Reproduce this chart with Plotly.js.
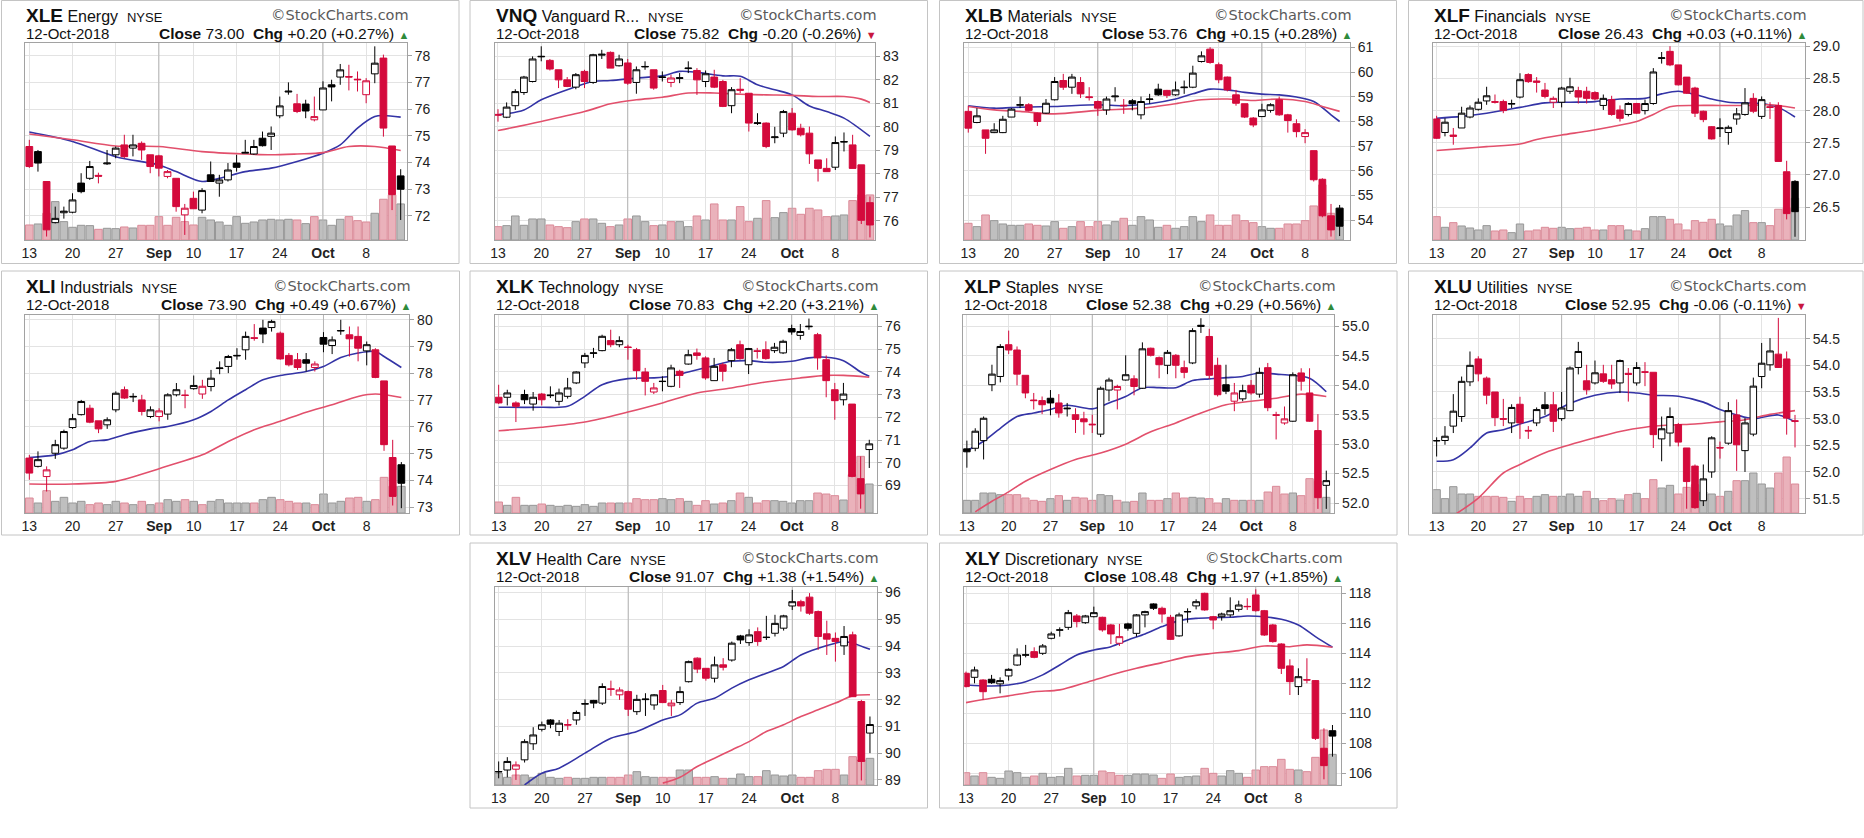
<!DOCTYPE html>
<html><head><meta charset="utf-8">
<script src="https://cdn.plot.ly/plotly-3.0.1.min.js"></script>
<style>html,body{margin:0;padding:0;background:#fff;}#chart{width:1864px;height:838px;}</style>
</head><body><div id="chart"></div>
<script>
// ---------------- DATA ----------------
const dates = ['2018-08-13','2018-08-14','2018-08-15','2018-08-16','2018-08-17','2018-08-20','2018-08-21','2018-08-22','2018-08-23','2018-08-24','2018-08-27','2018-08-28','2018-08-29','2018-08-30','2018-08-31','2018-09-04','2018-09-05','2018-09-06','2018-09-07','2018-09-10','2018-09-11','2018-09-12','2018-09-13','2018-09-14','2018-09-17','2018-09-18','2018-09-19','2018-09-20','2018-09-21','2018-09-24','2018-09-25','2018-09-26','2018-09-27','2018-09-28','2018-10-01','2018-10-02','2018-10-03','2018-10-04','2018-10-05','2018-10-08','2018-10-09','2018-10-10','2018-10-11','2018-10-12'];
const tickDates = ['2018-08-13','2018-08-20','2018-08-27','2018-09-04','2018-09-10','2018-09-17','2018-09-24','2018-10-01','2018-10-08'];
const tickLabels = ['13','20','27','<b>Sep</b>','10','17','24','<b>Oct</b>','8'];
const monthStarts = ['2018-09-04','2018-10-01'];
const asOf = '12-Oct-2018';

// [open, high, low, close]
const XLE_ohlc = [[74.6,74.85,73.8,73.85],[74.41,74.47,73.66,73.98],[73.29,73.3,71.23,71.48],[71.75,72.35,71.72,71.91],[72.12,72.35,71.9,72.18],[72.14,72.85,72.1,72.6],[73.23,73.6,72.85,72.91],[73.41,74.06,73.35,73.85],[73.52,73.62,73.22,73.49],[73.95,74.47,73.91,73.98],[74.29,74.6,74.16,74.54],[74.66,75.04,74.16,74.22],[74.54,75.04,74.23,74.66],[74.72,74.79,74.1,74.47],[74.29,74.29,73.6,73.85],[74.25,74.29,73.48,73.79],[73.48,73.72,73.41,73.66],[73.41,73.41,72.16,72.35],[72.04,72.45,71.29,72.29],[72.66,72.91,72.27,72.27],[72.22,73.04,72.1,72.95],[73.54,74.04,73.29,73.29],[73.23,73.54,72.72,73.35],[73.35,73.98,73.29,73.72],[73.98,74.29,73.66,73.82],[74.35,74.85,74.35,74.38],[74.32,74.85,74.29,74.6],[74.91,75.16,74.6,74.63],[74.98,75.35,74.47,75.1],[75.75,76.47,75.66,76.12],[76.64,77.0,76.54,76.67],[76.2,76.57,75.85,75.91],[76.19,76.35,75.66,75.93],[75.6,76.47,75.54,75.72],[75.97,77.04,75.97,76.79],[76.91,77.1,76.29,76.83],[77.2,77.69,76.91,77.47],[77.22,77.66,76.7,77.2],[77.12,77.41,76.66,77.1],[76.54,77.16,76.22,77.06],[77.32,78.35,76.97,77.72],[77.91,78.04,74.97,75.29],[74.62,74.62,72.22,72.8],[73.5,73.75,71.85,73.0]];
const XLE_vol = [45,48,80,115,55,38,44,43,32,35,34,39,36,44,44,70,44,68,55,45,68,60,54,44,70,50,54,60,62,60,62,60,49,70,60,44,62,70,58,54,80,122,135,108];
const XLE_ma20 = [[0,75.14],[5,74.79],[10,74.22],[15,73.91],[17,73.66],[20,73.29],[22,73.41],[25,73.66],[28,73.79],[31,74.04],[34,74.35],[36,74.66],[38,75.29],[40,75.72],[41,75.76],[43,75.7]];
const XLE_ma50 = [[0,75.07],[5,74.85],[10,74.62],[15,74.6],[20,74.41],[25,74.32],[28,74.29],[31,74.32],[34,74.37],[37,74.6],[40,74.6],[43,74.45]];
const XLE_ticks = [72,73,74,75,76,77,78];

const VNQ_ohlc = [[80.53,80.75,80.22,80.5],[80.41,81.04,80.37,80.84],[80.9,81.6,80.72,81.5],[81.46,82.17,81.36,82.12],[81.93,83.0,81.89,82.89],[82.98,83.43,82.79,83.0],[82.83,82.89,82.4,82.46],[82.43,82.43,81.65,82.0],[82.0,82.12,81.69,81.72],[81.69,82.29,81.6,82.22],[82.36,82.43,81.65,81.93],[81.89,83.11,81.83,83.07],[83.05,83.28,82.89,83.09],[83.17,83.21,82.5,82.5],[82.6,83.07,82.57,82.89],[82.72,82.89,81.79,81.86],[81.89,82.57,81.41,82.43],[82.55,82.79,82.43,82.57],[82.43,82.43,81.58,81.65],[82.1,82.36,81.93,82.12],[81.89,82.22,81.69,82.08],[82.06,82.29,81.86,82.09],[82.48,82.79,82.29,82.5],[82.4,82.5,81.36,82.0],[81.93,82.4,81.69,82.26],[82.12,82.43,81.65,81.69],[81.93,82.0,80.84,80.87],[80.9,81.69,80.58,81.58],[81.6,82.07,81.43,81.56],[81.43,81.43,79.8,80.16],[80.14,80.58,80.08,80.17],[80.16,80.19,79.09,79.16],[79.54,80.0,79.3,79.57],[79.73,80.72,79.56,80.65],[80.58,80.8,79.84,79.87],[79.94,80.13,79.59,79.66],[79.73,80.01,78.42,78.85],[78.59,78.59,77.67,78.23],[78.23,78.66,78.09,78.09],[78.28,79.59,78.16,79.33],[79.35,79.76,78.95,79.37],[79.23,79.66,78.23,78.23],[78.38,78.38,75.86,76.02],[76.77,77.03,75.29,75.82]];
const VNQ_vol = [40,43,72,44,63,63,45,40,37,55,63,63,50,40,45,63,72,55,43,45,55,55,40,72,60,108,60,60,100,55,65,118,67,82,95,77,95,90,70,72,75,118,135,135];
const VNQ_ma20 = [[0,80.51],[3,80.72],[5,81.15],[8,81.58],[11,81.93],[13,81.97],[16,82.08],[19,82.17],[21,82.36],[23,82.32],[26,82.17],[28,82.15],[30,81.79],[32,81.58],[34,81.36],[36,80.89],[38,80.65],[40,80.37],[43,79.59]];
const VNQ_ma50 = [[0,79.84],[5,80.23],[10,80.65],[13,80.98],[16,81.15],[19,81.26],[22,81.44],[25,81.44],[28,81.39],[31,81.36],[34,81.34],[37,81.29],[40,81.29],[42,81.18],[43,81.04]];
const VNQ_ticks = [76,77,78,79,80,81,82,83];

const XLB_ohlc = [[58.41,58.64,57.55,57.73],[57.96,58.54,57.93,58.23],[57.66,57.66,56.69,57.32],[57.55,57.93,57.53,57.66],[57.55,58.23,57.53,58.09],[58.18,58.54,58.18,58.5],[58.66,59.01,58.54,58.68],[58.68,58.74,58.41,58.45],[58.34,58.36,57.82,58.0],[58.34,58.91,58.31,58.74],[58.88,59.8,58.85,59.62],[59.66,59.93,59.28,59.39],[59.39,59.93,59.12,59.8],[59.58,59.8,58.95,59.12],[59.0,59.39,58.85,58.97],[58.81,58.85,58.23,58.54],[58.47,59.01,58.27,58.91],[59.0,59.39,58.81,59.03],[58.66,58.91,58.31,58.64],[58.84,58.91,58.45,58.72],[58.27,59.01,58.09,58.81],[58.89,59.12,58.72,58.91],[59.31,59.53,59.04,59.08],[59.26,59.28,58.95,59.06],[59.08,59.62,59.04,59.28],[59.37,59.66,59.12,59.39],[59.39,60.26,59.35,59.96],[60.43,60.84,60.39,60.66],[60.93,61.01,60.34,60.39],[60.3,60.39,59.55,59.69],[59.8,59.82,59.22,59.28],[59.08,59.28,58.64,58.74],[58.72,58.72,58.14,58.18],[58.14,58.18,57.77,57.86],[58.2,58.72,58.18,58.47],[58.45,58.74,58.36,58.68],[58.88,59.01,58.23,58.27],[58.27,58.31,57.55,58.04],[57.91,58.09,57.36,57.59],[57.39,57.69,57.12,57.55],[56.82,56.82,55.57,55.64],[55.66,55.7,54.12,54.18],[54.18,54.66,53.34,53.61],[54.49,54.62,53.36,53.76]];
const XLB_vol = [50,40,75,58,48,44,44,48,44,42,55,35,40,55,40,55,45,55,65,44,70,60,38,44,35,40,70,55,75,44,44,75,58,52,40,35,35,48,48,58,102,165,80,95];
const XLB_ma20 = [[0,58.64],[3,58.54],[6,58.58],[10,58.61],[15,58.68],[18,58.64],[21,58.72],[24,58.91],[26,59.12],[28,59.31],[30,59.28],[32,59.18],[34,59.11],[36,59.08],[38,58.99],[40,58.81],[42,58.27],[43,58.0]];
const XLB_ma50 = [[0,58.61],[3,58.47],[6,58.41],[10,58.31],[15,58.45],[20,58.54],[24,58.72],[27,58.88],[30,58.91],[33,58.85],[36,58.91],[39,58.81],[41,58.61],[43,58.41]];
const XLB_ticks = [54,55,56,57,58,59,60,61];

const XLF_ohlc = [[27.87,27.92,27.56,27.57],[27.66,27.88,27.6,27.82],[27.62,27.73,27.47,27.6],[27.73,28.06,27.73,27.96],[27.9,28.08,27.88,28.04],[28.02,28.19,28.0,28.13],[28.15,28.37,28.09,28.23],[28.14,28.25,28.11,28.13],[28.14,28.17,27.96,28.0],[28.1,28.17,28.04,28.11],[28.21,28.58,28.19,28.48],[28.56,28.58,28.43,28.45],[28.46,28.52,28.28,28.44],[28.32,28.43,28.19,28.22],[28.13,28.22,28.04,28.19],[28.13,28.37,28.05,28.35],[28.3,28.51,28.26,28.37],[28.31,28.37,28.11,28.21],[28.3,28.37,28.11,28.19],[28.28,28.3,28.16,28.18],[28.08,28.25,28.01,28.19],[28.17,28.23,27.92,27.94],[28.01,28.08,27.83,27.88],[27.94,28.13,27.91,28.11],[28.11,28.12,27.95,27.96],[28.0,28.17,27.94,28.11],[28.11,28.66,28.09,28.6],[28.81,28.91,28.73,28.82],[28.92,29.0,28.69,28.71],[28.71,28.71,28.39,28.4],[28.52,28.52,28.26,28.27],[28.35,28.37,27.9,27.96],[27.99,28.0,27.82,27.86],[27.75,27.76,27.55,27.56],[27.72,27.88,27.59,27.73],[27.66,27.77,27.47,27.74],[27.87,28.04,27.78,27.95],[27.94,28.35,27.92,28.12],[28.19,28.27,27.96,27.99],[27.91,28.22,27.87,28.17],[28.06,28.13,27.87,28.05],[28.08,28.13,27.21,27.21],[27.05,27.22,26.31,26.4],[26.9,26.92,26.04,26.43]];
const XLF_vol = [70,38,52,42,36,30,43,27,30,22,48,27,30,38,35,38,34,35,38,30,30,43,43,30,27,34,70,70,62,48,30,58,53,62,48,42,75,88,52,52,43,92,95,125];
const XLF_ma20 = [[0,27.88],[3,27.91],[6,27.96],[10,28.05],[13,28.12],[16,28.13],[19,28.14],[22,28.18],[25,28.19],[27,28.26],[29,28.3],[31,28.25],[33,28.18],[35,28.13],[37,28.12],[39,28.11],[41,28.05],[43,27.9]];
const XLF_ma50 = [[0,27.38],[3,27.41],[6,27.44],[10,27.48],[12,27.55],[15,27.62],[18,27.68],[21,27.75],[24,27.83],[26,27.94],[28,28.06],[31,28.08],[34,28.08],[37,28.08],[40,28.09],[43,28.04]];
const XLF_ticks = [26.5,27.0,27.5,28.0,28.5,29.0];

const XLI_ohlc = [[74.84,74.96,74.03,74.28],[74.53,75.09,74.49,74.78],[74.15,74.53,73.59,74.4],[75.02,75.52,74.81,75.34],[75.21,75.9,75.15,75.83],[75.98,76.49,75.93,76.31],[76.46,77.01,76.43,76.95],[76.7,76.83,76.14,76.18],[76.23,76.23,75.77,75.93],[76.08,76.36,75.93,76.27],[76.64,77.33,76.55,77.26],[77.39,77.51,77.05,77.08],[77.12,77.26,76.93,77.14],[77.01,77.2,76.43,76.58],[76.39,76.77,76.33,76.64],[76.39,76.7,76.21,76.6],[76.48,77.26,76.27,77.2],[77.2,77.64,77.14,77.39],[77.19,77.39,76.7,77.18],[77.43,77.92,77.39,77.55],[77.23,77.76,77.05,77.52],[77.51,78.13,77.33,77.82],[78.18,78.45,77.97,78.2],[78.26,78.69,78.01,78.63],[78.65,78.94,78.51,78.67],[78.88,79.56,78.51,79.38],[79.33,79.84,79.22,79.31],[79.69,80.0,79.13,79.47],[79.71,80.0,79.56,79.94],[79.5,79.56,78.51,78.54],[78.67,78.76,78.26,78.32],[78.51,78.76,78.13,78.22],[78.51,78.76,78.07,78.38],[78.22,78.45,78.07,78.35],[79.34,79.54,78.79,79.09],[79.04,79.38,78.72,79.25],[79.58,80.0,79.44,79.6],[79.44,79.75,78.63,79.29],[79.38,79.75,78.45,78.94],[78.84,79.19,78.3,79.07],[78.88,78.94,77.82,77.85],[77.72,77.72,75.11,75.34],[74.86,75.52,73.07,73.41],[74.59,74.69,72.97,73.9]];
const XLI_vol = [45,30,67,35,47,30,35,25,30,25,35,30,25,35,25,30,40,35,40,35,25,35,40,30,30,30,30,40,47,40,35,30,30,25,57,30,35,45,47,35,40,107,80,80];
const XLI_ma20 = [[0,74.86],[3,74.96],[5,75.15],[7,75.46],[9,75.52],[11,75.71],[14,75.93],[16,76.02],[19,76.27],[21,76.58],[23,77.01],[25,77.39],[27,77.76],[29,77.92],[32,78.07],[34,78.26],[36,78.59],[38,78.76],[40,78.82],[41,78.63],[43,78.22]];
const XLI_ma50 = [[0,73.87],[5,73.87],[10,73.97],[14,74.34],[17,74.65],[20,74.96],[23,75.46],[26,75.9],[29,76.21],[32,76.55],[35,76.83],[38,77.14],[40,77.23],[43,77.1]];
const XLI_ticks = [73,74,75,76,77,78,79,80];

const XLK_ohlc = [[72.88,73.43,72.58,72.63],[72.88,73.21,72.52,73.07],[72.63,72.7,71.79,72.48],[73.0,73.21,72.58,72.77],[72.58,73.11,72.29,72.88],[73.02,73.07,72.52,72.77],[72.95,73.36,72.85,72.97],[72.7,73.26,72.52,73.07],[72.92,73.73,72.82,73.29],[73.51,74.02,73.46,73.99],[74.39,74.83,74.17,74.72],[74.81,75.05,74.61,74.83],[74.93,75.63,74.9,75.56],[75.37,75.85,75.08,75.19],[75.19,75.56,75.08,75.37],[75.09,75.19,74.53,75.07],[74.97,75.05,73.65,74.05],[73.99,74.17,72.96,73.58],[73.11,73.51,73.02,73.29],[73.57,73.8,73.14,73.58],[73.36,74.31,73.32,74.17],[74.02,74.09,73.29,73.84],[74.34,74.97,74.31,74.75],[74.83,75.02,74.53,74.72],[74.61,74.68,73.65,73.73],[73.61,74.61,73.61,74.24],[74.31,74.39,73.58,74.02],[74.49,75.05,74.2,74.97],[75.19,75.37,74.53,74.58],[74.31,75.05,73.9,75.02],[74.92,75.05,74.58,74.9],[74.97,75.34,74.53,74.58],[74.93,75.27,74.83,75.08],[74.83,75.41,74.78,75.34],[75.9,76.07,75.63,75.75],[75.6,76.1,75.41,75.77],[75.98,76.34,75.85,76.0],[75.63,75.71,74.09,74.61],[74.53,74.72,72.88,73.61],[73.21,73.51,71.89,72.73],[72.77,73.51,72.52,73.02],[72.58,72.58,69.36,69.4],[69.3,70.28,67.98,68.63],[70.58,71.01,69.77,70.83]];
const XLK_vol = [33,23,47,23,23,27,23,20,23,20,25,20,30,30,30,30,43,40,40,43,40,43,35,23,37,27,30,37,60,47,30,37,37,35,30,37,37,60,57,52,39,115,170,87];
const XLK_ma20 = [[0,72.44],[5,72.44],[8,72.48],[10,72.92],[12,73.43],[15,73.7],[18,73.73],[20,73.8],[22,73.99],[25,74.28],[27,74.46],[29,74.49],[31,74.42],[34,74.46],[36,74.61],[38,74.64],[40,74.49],[42,73.99],[43,73.8]];
const XLK_ma50 = [[0,71.41],[5,71.56],[10,71.79],[15,72.23],[19,72.63],[23,73.07],[27,73.29],[31,73.55],[35,73.73],[38,73.84],[40,73.84],[43,73.76]];
const XLK_ticks = [69,70,71,72,73,74,75,76];

const XLP_ohlc = [[52.92,53.06,52.6,52.87],[52.93,53.27,52.88,53.22],[53.06,53.47,52.74,53.44],[54.01,54.35,53.9,54.19],[54.15,54.7,54.05,54.66],[54.69,54.93,54.53,54.6],[54.6,54.66,54.0,54.19],[54.17,54.17,53.78,53.87],[53.75,53.87,53.59,53.74],[53.74,53.81,53.51,53.67],[53.78,53.92,53.49,53.7],[53.7,53.85,53.45,53.53],[53.6,53.7,53.47,53.61],[53.5,53.61,53.19,53.42],[53.43,53.55,53.16,53.38],[53.34,53.5,53.19,53.33],[53.17,53.98,53.12,53.95],[53.92,54.13,53.73,54.09],[53.92,54.01,53.59,53.98],[54.09,54.51,54.08,54.18],[54.11,54.17,53.83,53.98],[53.95,54.73,53.94,54.62],[54.63,54.64,54.49,54.51],[54.47,54.49,54.12,54.35],[54.34,54.6,54.19,54.56],[54.51,54.53,54.12,54.34],[54.3,54.42,54.12,54.22],[54.38,54.97,54.36,54.93],[55.0,55.14,54.89,55.02],[54.83,54.96,54.11,54.17],[54.34,54.47,53.81,53.84],[54.01,54.35,53.85,53.9],[53.73,54.04,53.56,53.87],[53.77,54.01,53.73,53.91],[54.0,54.09,53.84,53.87],[53.85,54.3,53.79,54.22],[54.3,54.38,53.56,53.62],[53.5,53.55,53.08,53.49],[53.36,53.64,53.33,53.43],[53.39,54.22,53.38,54.18],[54.21,54.29,53.91,54.07],[53.87,54.29,53.38,53.39],[53.23,53.51,51.9,52.09],[52.3,52.55,51.9,52.38]];
const XLP_vol = [38,38,60,60,55,55,55,45,38,35,43,52,38,47,45,38,55,52,38,33,35,60,38,38,43,60,45,47,45,43,30,43,38,38,38,38,63,80,57,60,52,103,95,47];
const XLP_ma20 = [[0,52.89],[2,53.05],[4,53.27],[6,53.47],[8,53.53],[10,53.59],[12,53.66],[15,53.6],[17,53.7],[19,53.81],[21,53.96],[23,53.96],[25,53.96],[27,54.08],[29,54.11],[31,54.13],[33,54.15],[35,54.21],[37,54.19],[39,54.17],[41,54.12],[43,53.89]];
const XLP_ma50 = [[1,51.85],[3,52.03],[5,52.19],[7,52.37],[10,52.57],[13,52.74],[16,52.85],[19,53.0],[22,53.21],[25,53.36],[28,53.53],[31,53.67],[34,53.73],[37,53.78],[40,53.85],[43,53.81]];
const XLP_ticks = [52.0,52.5,53.0,53.5,54.0,54.5,55.0];

const XLU_ohlc = [[52.58,52.65,52.29,52.59],[52.59,52.86,52.51,52.67],[52.86,53.46,52.73,53.14],[53.04,53.79,52.94,53.7],[53.69,54.26,53.61,54.0],[54.12,54.17,53.7,53.84],[53.76,53.79,53.27,53.44],[53.5,53.5,52.86,53.02],[53.0,53.37,52.86,52.99],[52.92,53.27,52.73,53.21],[53.27,53.41,52.62,52.92],[52.78,52.86,52.62,52.77],[52.92,53.21,52.86,53.17],[53.26,53.5,53.07,53.19],[53.26,53.5,52.75,52.95],[53.0,53.5,52.96,53.2],[53.15,53.98,53.14,53.95],[53.96,54.44,53.83,54.26],[53.71,54.01,53.45,53.54],[53.67,54.09,53.64,53.86],[53.84,54.01,53.67,53.7],[53.73,54.01,53.56,53.65],[53.67,54.11,53.48,54.09],[53.85,53.95,53.32,53.83],[53.67,54.06,53.62,53.96],[53.88,54.06,53.61,53.87],[53.87,53.87,52.45,52.7],[52.62,53.04,52.2,52.81],[52.73,53.21,52.48,53.04],[52.89,52.92,52.48,52.56],[52.45,52.45,51.31,51.82],[52.11,52.14,51.31,51.33],[51.46,52.14,51.36,51.87],[52.0,52.67,51.89,52.64],[52.46,52.57,52.25,52.45],[52.54,53.31,52.51,53.15],[53.07,53.36,52.02,52.51],[52.4,53.01,52.0,52.92],[52.71,53.77,52.67,53.61],[53.79,54.42,53.57,54.04],[54.01,54.51,53.9,54.27],[54.21,54.89,53.95,53.96],[54.12,54.26,52.7,53.01],[52.96,53.07,52.46,52.95]];
const XLU_vol = [70,43,79,57,57,50,50,50,47,35,50,43,50,55,50,50,57,50,65,43,37,43,39,55,59,43,100,75,83,57,77,85,63,57,50,65,97,97,120,87,75,120,168,87];
const XLU_ma20 = [[0,52.2],[2,52.23],[4,52.45],[6,52.73],[8,52.79],[10,52.9],[13,53.04],[16,53.29],[19,53.44],[22,53.5],[24,53.48],[26,53.44],[29,53.42],[32,53.31],[34,53.17],[36,53.07],[38,53.0],[41,53.07],[43,52.94]];
const XLU_ma50 = [[2,51.18],[5,51.51],[8,51.98],[10,52.14],[13,52.36],[16,52.51],[19,52.64],[22,52.76],[25,52.84],[28,52.88],[31,52.9],[34,52.94],[37,52.98],[40,53.08],[43,53.15]];
const XLU_ticks = [51.5,52.0,52.5,53.0,53.5,54.0,54.5];

const XLV_ohlc = [[89.3,89.69,89.06,89.31],[89.37,89.85,89.1,89.69],[89.4,89.69,89.0,89.56],[89.75,90.52,89.65,90.43],[90.35,90.97,90.12,90.68],[90.89,91.18,90.81,91.06],[91.24,91.27,90.93,91.08],[90.81,91.24,90.64,91.12],[91.07,91.27,90.87,91.05],[91.24,91.59,91.06,91.52],[91.83,92.01,91.39,91.85],[91.97,91.99,91.68,91.87],[91.87,92.61,91.8,92.49],[92.4,92.71,92.14,92.39],[92.18,92.46,91.99,92.36],[92.3,92.34,91.39,91.64],[91.55,92.18,91.43,92.01],[92.0,92.24,91.39,92.02],[91.8,92.21,91.62,92.18],[92.34,92.55,91.87,91.89],[91.77,91.99,91.39,91.87],[91.89,92.49,91.8,92.3],[92.67,93.46,92.64,93.42],[93.55,93.58,92.99,93.14],[93.17,93.17,92.71,92.8],[92.8,93.61,92.64,93.3],[93.3,93.55,93.09,93.21],[93.48,94.17,93.42,94.11],[94.38,94.42,94.08,94.23],[94.13,94.63,94.01,94.42],[94.54,94.7,94.01,94.17],[94.32,95.13,94.23,94.33],[94.48,95.17,94.36,94.85],[94.67,95.17,94.58,95.13],[95.5,96.1,95.35,95.66],[95.66,95.73,95.29,95.5],[95.83,95.98,95.17,95.23],[95.29,95.33,93.86,94.36],[94.46,94.95,93.67,94.26],[94.29,94.51,93.42,94.17],[94.01,94.75,93.67,94.36],[94.42,94.54,92.11,92.11],[91.93,91.99,88.98,89.69],[90.75,91.37,90.0,91.07]];
const XLV_vol = [35,23,30,30,23,35,23,20,23,20,20,23,23,23,23,30,40,25,23,23,23,45,45,23,23,25,20,20,33,25,25,43,30,27,30,23,23,43,47,47,30,85,75,80];
const XLV_ma20 = [[3,88.81],[5,89.25],[7,89.44],[10,90.0],[13,90.56],[16,90.81],[19,91.24],[21,91.43],[23,91.87],[25,92.05],[27,92.43],[29,92.74],[31,92.99],[33,93.24],[35,93.67],[37,93.92],[39,94.11],[40,94.17],[41,94.11],[43,93.88]];
const XLV_ma50 = [[19,88.88],[21,89.1],[23,89.5],[25,89.81],[27,90.12],[29,90.43],[31,90.81],[33,91.06],[35,91.37],[37,91.62],[39,91.87],[41,92.14],[43,92.18]];
const XLV_ticks = [89,90,91,92,93,94,95,96];

const XLY_ohlc = [[112.67,112.78,111.73,111.78],[112.4,113.11,112.0,112.89],[112.22,112.27,110.89,111.44],[112.27,112.56,111.96,112.04],[111.96,112.4,111.33,112.18],[112.49,113.0,112.18,112.93],[113.22,114.33,113.16,113.89],[113.87,114.56,113.73,113.9],[114.11,114.4,113.67,113.73],[114.0,114.62,113.89,114.49],[115.0,115.44,114.93,115.29],[115.54,115.73,115.11,115.56],[115.73,116.89,115.56,116.71],[116.49,116.62,115.73,116.11],[116.04,116.56,115.96,116.49],[116.44,117.11,116.4,116.71],[116.4,116.44,115.44,115.56],[115.89,115.96,114.62,115.29],[114.67,115.96,114.49,115.11],[115.96,116.04,115.51,115.67],[115.33,116.62,115.11,116.56],[116.56,116.84,115.73,116.78],[117.29,117.33,116.89,117.0],[117.0,117.11,116.04,116.62],[116.4,116.56,114.89,114.93],[115.16,116.71,115.11,116.56],[116.76,117.0,116.04,116.78],[117.16,117.6,116.93,117.44],[118.0,118.04,116.84,116.89],[116.44,116.49,115.6,116.22],[116.44,116.71,116.18,116.62],[116.56,117.73,116.4,116.84],[116.93,117.51,116.78,117.22],[117.13,117.67,116.89,117.11],[117.89,118.27,116.78,116.84],[116.84,116.89,115.16,115.22],[115.89,115.96,114.71,114.78],[114.62,114.67,112.62,113.0],[113.16,113.6,111.22,112.11],[111.78,113.0,111.22,112.44],[112.24,113.67,112.0,112.22],[112.18,112.22,108.22,108.33],[107.67,109.0,105.6,106.51],[108.84,109.22,107.11,108.48]];
const XLY_vol = [37,27,37,23,20,42,37,23,27,35,23,25,50,27,29,29,42,37,29,29,33,33,30,20,33,23,25,27,50,35,27,43,35,23,45,55,55,77,47,45,40,83,165,92];
const XLY_ma20 = [[0,111.89],[3,111.82],[5,111.89],[7,112.11],[9,112.56],[11,113.22],[13,113.89],[15,114.22],[17,114.44],[19,114.89],[21,115.29],[23,115.78],[25,116.18],[27,116.33],[29,116.38],[31,116.4],[33,116.49],[35,116.44],[37,116.27],[39,115.89],[41,115.11],[43,114.4]];
const XLY_ma50 = [[0,110.71],[3,111.0],[5,111.16],[8,111.44],[11,111.56],[14,112.04],[17,112.56],[20,113.0],[23,113.38],[26,113.78],[29,114.0],[32,114.18],[35,114.49],[38,114.44],[40,114.56],[43,114.4]];
const XLY_ticks = [106,108,110,112,114,116,118];

// header facts per symbol
const symbols = ['XLE','VNQ','XLB','XLF','XLI','XLK','XLP','XLU','XLV','XLY'];
const names = ['Energy','Vanguard R...','Materials','Financials','Industrials','Technology','Staples','Utilities','Health Care','Discretionary'];
const closes = ['73.00','75.82','53.76','26.43','73.90','70.83','52.38','52.95','91.07','108.48'];
const changes = ['+0.20','-0.20','+0.15','+0.03','+0.49','+2.20','+0.29','-0.06','+1.38','+1.97'];
const pcts = ['+0.27%','-0.26%','+0.28%','+0.11%','+0.67%','+3.21%','+0.56%','-0.11%','+1.54%','+1.85%'];
const prevCloseBefore = [74.2,80.6,58.0,27.7,74.5,72.8,52.8,52.5,89.2,112.0];

// ---------------- LAYOUT / STYLE ----------------
const W = 1864, H = 838;
const FONT = 'Liberation Sans, Arial, Helvetica, sans-serif';
const RED = '#d40a3c', BLACK = '#000000';
const VOL_UP = '#bfbfbf', VOL_UP_L = '#979797', VOL_DN = '#eab2bb', VOL_DN_L = '#da8a98';
const GRID = '#e3e3e3', MONTH = '#b4b4b4', AXLINE = '#a2a2a2', FRAME = '#c4c4c4';
const MA20C = '#3434a6', MA50C = '#e2506c';

const series = {XLE:[XLE_ohlc,XLE_vol,XLE_ma20,XLE_ma50,XLE_ticks],VNQ:[VNQ_ohlc,VNQ_vol,VNQ_ma20,VNQ_ma50,VNQ_ticks],XLB:[XLB_ohlc,XLB_vol,XLB_ma20,XLB_ma50,XLB_ticks],XLF:[XLF_ohlc,XLF_vol,XLF_ma20,XLF_ma50,XLF_ticks],XLI:[XLI_ohlc,XLI_vol,XLI_ma20,XLI_ma50,XLI_ticks],XLK:[XLK_ohlc,XLK_vol,XLK_ma20,XLK_ma50,XLK_ticks],XLP:[XLP_ohlc,XLP_vol,XLP_ma20,XLP_ma50,XLP_ticks],XLU:[XLU_ohlc,XLU_vol,XLU_ma20,XLU_ma50,XLU_ticks],XLV:[XLV_ohlc,XLV_vol,XLV_ma20,XLV_ma50,XLV_ticks],XLY:[XLY_ohlc,XLY_vol,XLY_ma20,XLY_ma50,XLY_ticks]};

// plot box [L,R,T,B], frame [L,R,T,B], x range, y range, decimals, volume axis max
const geo = [
 {box:[25,407,43,240],      frame:[1.5,459,0.5,263.5],   xr:[-0.5,43.73], yr:[71.1,78.475], dec:0, vmax:590},
 {box:[494.7,875.3,43,240], frame:[470,927.5,0.5,263.5], xr:[-0.38,43.62],yr:[75.18,83.57], dec:0, vmax:590},
 {box:[964.3,1350,43,240],  frame:[939.5,1396.5,0.5,263.5],xr:[-0.46,44.2],yr:[53.2,61.18],  dec:0, vmax:590},
 {box:[1433.3,1805,43,240], frame:[1408.5,1863,0.5,263.5],xr:[-0.4,44.2], yr:[25.99,29.05], dec:1, vmax:590},
 {box:[25,409.3,314.7,513], frame:[1.5,459.5,271,535],    xr:[-0.5,43.92], yr:[72.79,80.19], dec:0, vmax:595},
 {box:[494.7,877.3,314.7,513],frame:[470,927.5,271,535], xr:[-0.46,43.93],yr:[67.79,76.51], dec:0, vmax:595},
 {box:[962.7,1334.3,314.7,513],frame:[939.5,1397,271,535],xr:[-0.5,43.96],yr:[51.83,55.2], dec:1, vmax:595},
 {box:[1433.3,1805,314.7,513],frame:[1408.5,1863,271,535],xr:[-0.4,44.2], yr:[51.23,54.95], dec:1, vmax:595},
 {box:[494.7,877.3,586.7,785],frame:[470,927.5,543,808], xr:[-0.46,43.85],yr:[88.81,96.22], dec:0, vmax:595},
 {box:[964.3,1341,586.7,785],frame:[939.5,1397,543,808], xr:[-0.2,44.0],  yr:[105.22,118.44],dec:0, vmax:595}
];

const traces = [];
const layout = {
  width: W, height: H, margin: {l:0,r:0,t:0,b:0},
  paper_bgcolor: '#ffffff', plot_bgcolor: '#ffffff', showlegend: false,
  font: {family: FONT, color: '#222'},
  boxgap: 0.22, boxgroupgap: 0, bargap: 0.12, barmode: 'overlay',
  shapes: [], annotations: [], hovermode: false
};
const px = v => v / W, py = v => 1 - v / H;
const yid = n => n === 1 ? 'y' : 'y' + n;
const ykey = n => n === 1 ? 'yaxis' : 'yaxis' + n;

symbols.forEach((sym, k) => {
  const [ohlc, vol, ma20, ma50, ticks] = series[sym];
  const g = geo[k];
  const n = k + 1;
  const xa = n === 1 ? 'x' : 'x' + n;
  const xKey = n === 1 ? 'xaxis' : 'xaxis' + n;
  // three stacked y axes per panel: volume (base), price + MAs, candles (top-most)
  const vN = 3 * k + 1, pN = 3 * k + 2, cN = 3 * k + 3;
  const yv = yid(vN), yp = yid(pN), yc = yid(cN);
  const up = ohlc.map((r, i) => r[3] >= (i === 0 ? prevCloseBefore[k] : ohlc[i - 1][3]));

  // month separator lines
  const mx = [], my = [];
  monthStarts.forEach(d => { mx.push(d, d, null); my.push(0, g.vmax, null); });
  traces.push({type:'scatter', mode:'lines', x: mx, y: my, xaxis: xa, yaxis: yv,
    line: {color: MONTH, width: 1}, hoverinfo: 'skip'});

  // volume
  traces.push({type:'bar', x: dates, y: vol, xaxis: xa, yaxis: yv,
    marker: {color: up.map(u => u ? VOL_UP : VOL_DN), line: {color: up.map(u => u ? VOL_UP_L : VOL_DN_L), width: 1}},
    hoverinfo: 'skip'});

  // moving averages (20-day blue, 50-day red)
  [[ma20, MA20C], [ma50, MA50C]].forEach(([ma, c]) => {
    traces.push({type:'scatter', mode:'lines', x: ma.map(p => dates[p[0]]), y: ma.map(p => p[1]),
      xaxis: xa, yaxis: yp, line: {color: c, width: 1.6, shape: 'spline', smoothing: 0.9}, hoverinfo: 'skip'});
  });

  // candles: black (close >= prior close) and red (close < prior close); hollow when close > open
  [true, false].forEach(isUp => {
    const idx = dates.map((d, i) => i).filter(i => up[i] === isUp);
    const c = isUp ? BLACK : RED;
    traces.push({type:'candlestick', xaxis: xa, yaxis: yc,
      x: idx.map(i => dates[i]), open: idx.map(i => ohlc[i][0]), high: idx.map(i => ohlc[i][1]),
      low: idx.map(i => ohlc[i][2]), close: idx.map(i => ohlc[i][3]),
      increasing: {line: {color: c, width: 1}, fillcolor: '#ffffff'},
      decreasing: {line: {color: c, width: 1}, fillcolor: c},
      whiskerwidth: 0, hoverinfo: 'skip', showlegend: false});
  });

  const [L, R, T, B] = g.box;
  layout[xKey] = {domain: [px(L), px(R)], anchor: yv, type: 'category', categoryorder: 'array', categoryarray: dates,
    range: g.xr, tickmode: 'array', tickvals: tickDates, ticktext: tickLabels,
    showgrid: true, gridcolor: GRID, gridwidth: 1, ticks: '', tickfont: {size: 14, color: '#222', family: FONT},
    showline: true, linecolor: AXLINE, linewidth: 1, mirror: true, zeroline: false, fixedrange: true,
    rangeslider: {visible: false}};
  layout[ykey(vN)] = {domain: [py(B), py(T)], anchor: xa, range: [0, g.vmax], showgrid: false, showline: false,
    showticklabels: false, ticks: '', zeroline: false, fixedrange: true};
  layout[ykey(pN)] = {overlaying: yv, anchor: xa, side: 'right', range: g.yr, tickmode: 'array', tickvals: ticks,
    ticktext: ticks.map(v => v.toFixed(g.dec)), showgrid: true, gridcolor: GRID, gridwidth: 1,
    showline: true, linecolor: AXLINE, linewidth: 1, mirror: true, ticks: 'outside', ticklen: 4, tickcolor: AXLINE,
    tickfont: {size: 14, color: '#222', family: FONT}, zeroline: false, fixedrange: true};
  layout[ykey(cN)] = {overlaying: yv, anchor: xa, side: 'right', range: g.yr, showgrid: false, showline: false,
    showticklabels: false, ticks: '', zeroline: false, fixedrange: true};

  // panel frame
  const [fL, fR, fT, fB] = g.frame;
  layout.shapes.push({type: 'rect', xref: 'paper', yref: 'paper', x0: px(fL), x1: px(fR), y0: py(fB), y1: py(fT),
    line: {color: FRAME, width: 1}, fillcolor: 'rgba(0,0,0,0)', layer: 'below'});

  const isUpDay = changes[k][0] === '+';
  const arrow = isUpDay ? '<span style="color:#2f8a3a;font-size:11px">▲</span>' : '<span style="color:#c8173f;font-size:11px">▼</span>';
  const A = (x, y, text, xanchor, size, color, fam) => ({xref: 'paper', yref: 'paper', x: px(x), y: py(y), text, xanchor,
    yanchor: 'middle', showarrow: false, borderpad: 0, font: {size, color, family: fam || FONT}});
  layout.annotations.push(A(L, fT + 15, `<span style="font-size:19px"><b>${sym}</b></span> ${names[k]} &nbsp;<span style="font-size:13px">NYSE</span>`, 'left', 16, '#111'));
  layout.annotations.push(A(R + 3, fT + 15, '©StockCharts.com', 'right', 14.5, '#5a5a5a', 'DejaVu Sans, Verdana, sans-serif'));
  layout.annotations.push(A(L, fT + 33.5, asOf, 'left', 15, '#111'));
  layout.annotations.push(A(R + 3, fT + 33.5, `<b>Close</b> ${closes[k]} &nbsp;<b>Chg</b> ${changes[k]} (${pcts[k]}) ${arrow}`, 'right', 15.5, '#111'));
});

Plotly.newPlot('chart', traces, layout, {staticPlot: true, displayModeBar: false});
</script></body></html>
